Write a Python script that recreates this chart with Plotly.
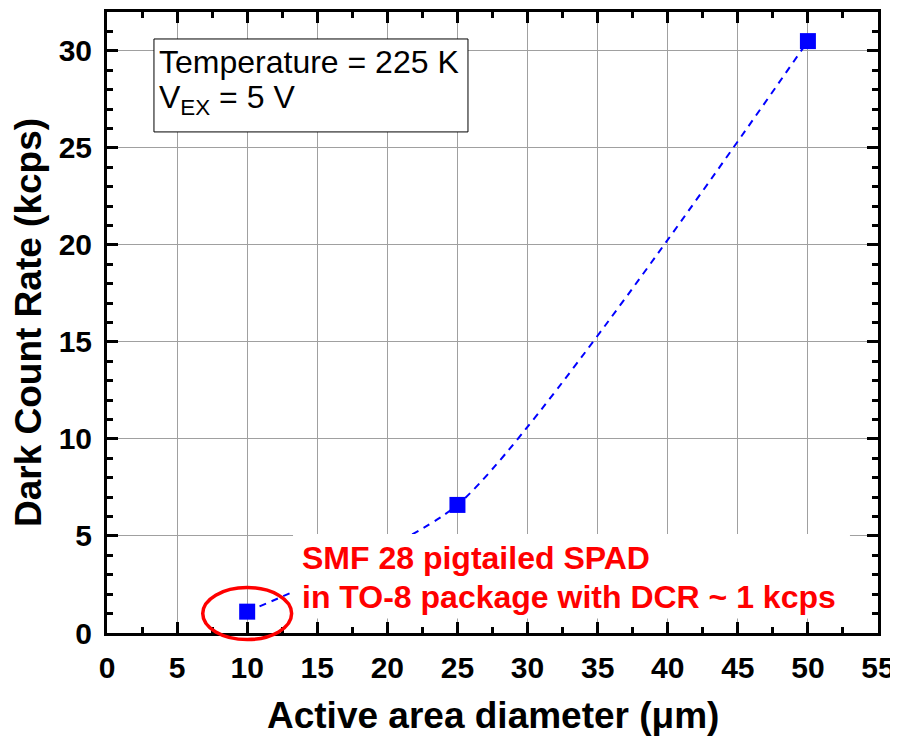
import plotly.graph_objects as go

# Data
diameter_um = [10, 25, 50]
dcr_kcps = [1.1, 6.6, 30.5]

x_ticks = [0, 5, 10, 15, 20, 25, 30, 35, 40, 45, 50, 55]
y_ticks = [0, 5, 10, 15, 20, 25, 30]

x_title = "Active area diameter (μm)"
y_title = "Dark Count Rate (kcps)"
info_lines = ["Temperature = 225 K", "V<sub>EX</sub> = 5 V"]
note_lines = ["SMF 28 pigtailed SPAD", "in TO-8 package with DCR ~ 1 kcps"]

X_RANGE = [0, 55]
Y_RANGE = [0, 32]

FONT = "Liberation Sans, Arial, sans-serif"

fig = go.Figure()
fig.add_trace(go.Scatter(
    x=diameter_um, y=dcr_kcps, mode="lines+markers",
    line=dict(color="#0000ff", width=2, dash="7px,6px", shape="spline", smoothing=0.6),
    marker=dict(symbol="square", size=16, color="#0000ff"),
    showlegend=False,
))

axis_common = dict(
    showline=True, linecolor="black", linewidth=3, mirror="allticks",
    ticks="inside", ticklen=11, tickwidth=3, tickcolor="black",
    showgrid=True, gridcolor="#a0a0a0", gridwidth=1,
    zeroline=False, automargin=False, ticklabeloverflow="allow",
    tickfont=dict(family=FONT, size=30, color="black", weight="bold"),
)

fig.update_xaxes(
    range=X_RANGE, tickvals=x_ticks, ticktext=[str(v) for v in x_ticks],
    minor=dict(ticks="inside", ticklen=6, tickwidth=2.5, tickcolor="black", dtick=2.5, tick0=0, showgrid=False),
    ticklabelstandoff=6,
    **axis_common,
)
fig.update_yaxes(
    range=Y_RANGE, tickvals=y_ticks, ticktext=[str(v) for v in y_ticks],
    minor=dict(ticks="inside", ticklen=6, tickwidth=2.5, tickcolor="black", dtick=1, tick0=0, showgrid=False),
    title=dict(text=y_title, font=dict(family=FONT, size=37, color="black", weight="bold"), standoff=7),
    ticklabelstandoff=6,
    **axis_common,
)

# x-axis title placed below the axis
fig.add_annotation(x=0.5, y=0, xref="paper", yref="paper", text=x_title, showarrow=False,
                   xanchor="center", yanchor="middle", yshift=-82,
                   font=dict(family=FONT, size=37, color="black", weight="bold"))

# info box (top-left)
fig.add_shape(type="rect", xref="x", yref="y", x0=3.35, x1=25.75, y0=25.82, y1=30.61,
              fillcolor="white", line=dict(color="black", width=1), layer="above")
fig.add_annotation(x=3.55, y=29.4, xref="x", yref="y", text=info_lines[0], showarrow=False,
                   xanchor="left", yanchor="middle",
                   font=dict(family=FONT, size=32, color="black"))
fig.add_annotation(x=3.55, y=27.5, xref="x", yref="y", text=info_lines[1], showarrow=False,
                   xanchor="left", yanchor="middle",
                   font=dict(family=FONT, size=32, color="black"))

# white background behind note
fig.add_shape(type="rect", xref="x", yref="y", x0=13.27, x1=53.0, y0=0.75, y1=5.1,
              fillcolor="white", line=dict(width=0), layer="above")
fig.add_annotation(x=13.75, y=3.85, xref="x", yref="y", text=note_lines[0], showarrow=False,
                   xanchor="left", yanchor="middle",
                   font=dict(family=FONT, size=32, color="#ff0000", weight="bold"))
fig.add_annotation(x=13.75, y=1.85, xref="x", yref="y", text=note_lines[1], showarrow=False,
                   xanchor="left", yanchor="middle",
                   font=dict(family=FONT, size=32, color="#ff0000", weight="bold"))

# red ellipse around the first point (paper coords derived from data and axis ranges)
cx, cy = diameter_um[0], dcr_kcps[0] - 0.1
rx, ry = 3.17, 1.34
def px(v):
    return (v - X_RANGE[0]) / (X_RANGE[1] - X_RANGE[0])
def py(v):
    return (v - Y_RANGE[0]) / (Y_RANGE[1] - Y_RANGE[0])
fig.add_shape(type="circle", xref="paper", yref="paper",
              x0=px(cx - rx), x1=px(cx + rx), y0=py(cy - ry), y1=py(cy + ry),
              line=dict(color="#ff0000", width=3.5), layer="above")

# page body has an 8px margin, so the figure is sized/offset to compensate
fig.update_layout(
    width=890, height=731,
    margin=dict(l=99, r=20, t=4, b=106),
    plot_bgcolor="white", paper_bgcolor="white",
    font=dict(family=FONT, color="black"),
)

fig.write_html("out.html")
